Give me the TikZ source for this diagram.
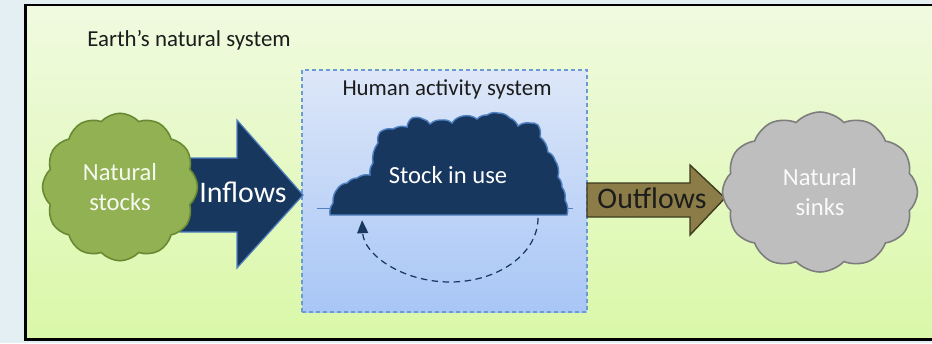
\documentclass[tikz,border=0pt]{standalone}
\usepackage{fontspec}
\setmainfont{Carlito}
\definecolor{PageBlue}{RGB}{227,239,243}
\definecolor{EarthTop}{RGB}{240,250,224}
\definecolor{EarthBot}{RGB}{218,248,168}
\definecolor{HumanTop}{RGB}{221,231,248}
\definecolor{HumanBot}{RGB}{168,198,246}
\definecolor{HumanEdge}{RGB}{108,155,210}
\definecolor{StockNavy}{RGB}{24,55,94}
\definecolor{StockEdge}{RGB}{80,130,195}
\definecolor{LeafGreen}{RGB}{146,177,82}
\definecolor{LeafEdge}{RGB}{104,138,52}
\definecolor{OutOlive}{RGB}{140,124,72}
\definecolor{OutEdge}{RGB}{62,58,30}
\definecolor{SinkGray}{RGB}{190,190,190}
\definecolor{SinkEdge}{RGB}{125,125,125}
\definecolor{InkDark}{RGB}{28,28,28}
\usetikzlibrary{arrows.meta, shapes.symbols, positioning, calc}

\begin{document}
\begin{tikzpicture}[font=\normalsize,
	cld/.style={cloud, cloud puffs=12, cloud puff arc=95, cloud ignores aspect,
		inner sep=0pt, align=center, line width=0.9pt},
	lbl/.style={text=InkDark, font=\fontsize{13}{15}\selectfont},
	big/.style={font=\fontsize{17}{20}\selectfont},
	bump/.style={bend left=22},
	loop/.style={-{Triangle[length=2.6mm, width=2.2mm]}, StockNavy, line width=0.7pt,
		dash pattern=on 1.3mm off 0.9mm}]

	\useasboundingbox (0,0) rectangle (18.64,6.86);
	\fill[PageBlue] (0,0) rectangle (18.64,6.86);

	% ---------- earth's natural system ----------
	\shade[top color=EarthTop, bottom color=EarthBot] (0.51,0.07) rectangle (18.64,6.76);
	\draw[line width=1.5pt, black] (18.64,6.76) -- (0.51,6.76) -- (0.51,0.07) -- (18.64,0.07);
	\node[lbl] (earth) at (3.78,6.06) {Earth’s natural system};

	% ---------- human activity system ----------
	\draw[HumanEdge, line width=0.6pt, dash pattern=on 0.8mm off 0.6mm,
		top color=HumanTop, bottom color=HumanBot] (6.04,0.62) rectangle (11.74,5.46);
	\node[lbl] (human) at (8.94,5.08) {Human activity system};

	% stock in use
	\draw[StockEdge, line width=0.5pt] (6.34,2.70) -- (11.46,2.70);
	\draw[StockEdge, line width=0.8pt, fill=StockNavy]
		(6.60,2.56) \foreach \x/\y in {6.66/2.80,6.76/3.10,6.94/3.20,7.14/3.30,7.40/3.36,
			7.46/3.60,7.56/4.00,7.60/4.22,7.86/4.28,8.14/4.32,8.24/4.50,8.46/4.48,
			8.60/4.38,8.84/4.46,9.04/4.40,9.26/4.54,9.54/4.48,9.74/4.56,9.96/4.60,
			10.20/4.50,10.36/4.34,10.60/4.40,10.76/4.36,10.80/4.12,10.96/3.82,
			11.10/3.66,11.16/3.32,11.24/3.12,11.30/2.86,11.34/2.56}{ to[bump] (\x,\y) } -- cycle;
	\node[text=white, font=\fontsize{14}{17}\selectfont] (stock) at (8.96,3.36) {Stock in use};

	\coordinate (loopR) at (10.76,2.50);
	\draw[loop] (loopR) arc[start angle=0, end angle=-178, x radius=1.76, y radius=1.28];

	% ---------- flows ----------
	\fill[StockNavy, draw=StockEdge, line width=0.7pt]
		(3.6,3.70) -- (4.74,3.70) -- (4.74,4.46) -- (6.06,2.96) -- (4.74,1.50)
		-- (4.74,2.22) -- (3.6,2.22) -- cycle;
	\node[big, text=white] (inflows) at (4.86,3.02) {Inflows};

	\fill[OutOlive, draw=OutEdge, line width=0.8pt]
		(11.74,3.20) -- (13.8,3.20) -- (13.8,3.56) -- (14.5,2.90) -- (13.8,2.16)
		-- (13.8,2.52) -- (11.74,2.52) -- cycle;
	\node[big, text=InkDark] (outflows) at (13.04,2.90) {Outflows};

	% ---------- stocks and sinks ----------
	\node[cld, fill=LeafGreen, draw=LeafEdge, minimum width=3.1cm, minimum height=2.95cm,
		text=white!92!LeafGreen, font=\fontsize{14}{17}\selectfont] (stocks) at (2.4,3.12) {Natural\\stocks};
	\node[cld, fill=SinkGray, draw=SinkEdge, minimum width=3.9cm, minimum height=3.2cm,
		text=white!92!SinkGray, font=\fontsize{14}{17}\selectfont] (sinks) at (16.4,3.02) {Natural\\sinks};
\end{tikzpicture}
\end{document}
